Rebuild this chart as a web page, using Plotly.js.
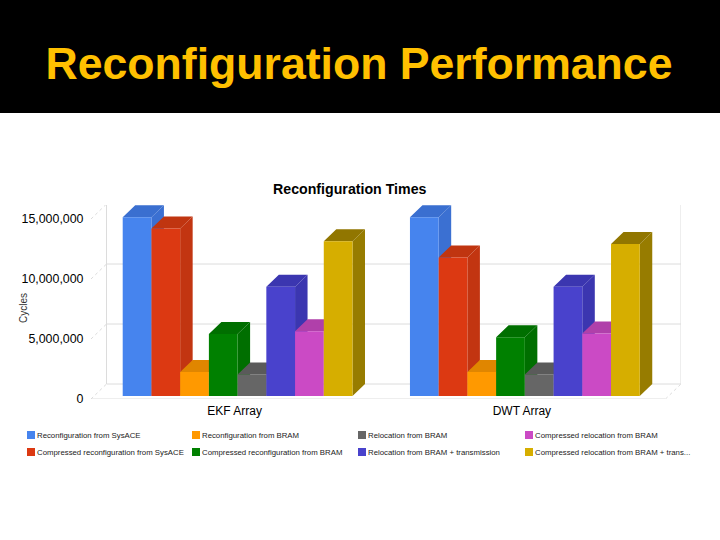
<!DOCTYPE html>
<html>
<head>
<meta charset="utf-8">
<script src="https://cdn.plot.ly/plotly-3.0.1.min.js"></script>
<style>
  html, body { margin: 0; padding: 0; background: #fff; }
</style>
</head>
<body>
<div id="chart" style="width:720px;height:540px"></div>
<script>
const categories = ["EKF Array", "DWT Array"];
const seriesNames = [
  "Reconfiguration from SysACE",
  "Compressed reconfiguration from SysACE",
  "Reconfiguration from BRAM",
  "Compressed reconfiguration from BRAM",
  "Relocation from BRAM",
  "Relocation from BRAM + transmission",
  "Compressed relocation from BRAM",
  "Compressed relocation from BRAM + trans..."
];
const sysAce = [14900000, 14900000];
const compSysAce = [13950000, 11550000];
const bram = [2000000, 2000000];
const compBram = [5170000, 4900000];
const reloc = [1800000, 1800000];
const relocTrans = [9100000, 9100000];
const compReloc = [5400000, 5200000];
const compRelocTrans = [12900000, 12670000];
const seriesValues = [sysAce, compSysAce, bram, compBram, reloc, relocTrans, compReloc, compRelocTrans];

const frontColors = ["#4684ee", "#dc3912", "#ff9900", "#008000", "#666666", "#4942cc", "#cb4ac5", "#d6ae00"];
const topColors = ["#3a6fd0", "#c03510", "#e08600", "#006f00", "#5a5a5a", "#3b36b0", "#b040aa", "#917600"];
const sideColors = ["#3b70d2", "#c23511", "#e08600", "#006f00", "#5a5a5a", "#3b36b0", "#b040aa", "#977c00"];

const tickValues = [0, 5000000, 10000000, 15000000];
const tickLabels = ["0", "5,000,000", "10,000,000", "15,000,000"];

// fake 3d: pixels are 287.5 per category and 12 per million
const barWidth = 0.1;
const barLift = 250000;
const barShift = 0.0104;
const depthX = 0.0435;
const depthY = 1000000;
const wallX = 0.054;
const wallY = 1250000;
const xRange = [-0.5, 1.5 + wallX];
const yRange = [0, 16166667];

let traces = [];

// top and side faces go on the lower axes, bars on the overlay so they cover them
seriesValues.forEach(function (vals, i) {
  let topX = [], topY = [], sideX = [], sideY = [];
  vals.forEach(function (v, c) {
    let x0 = c - 0.4 + i * barWidth + barShift;
    let x1 = x0 + barWidth;
    let y0 = barLift;
    let y1 = v + barLift;
    topX.push(x0, x1, x1 + depthX, x0 + depthX, x0, null);
    topY.push(y1, y1, y1 + depthY, y1 + depthY, y1, null);
    sideX.push(x1, x1 + depthX, x1 + depthX, x1, x1, null);
    sideY.push(y0, y0 + depthY, y1 + depthY, y1, y0, null);
  });
  traces.push({x: sideX, y: sideY, mode: "lines", fill: "toself", fillcolor: sideColors[i],
    line: {width: 0}, hoverinfo: "skip", showlegend: false});
  traces.push({x: topX, y: topY, mode: "lines", fill: "toself", fillcolor: topColors[i],
    line: {width: 0}, hoverinfo: "skip", showlegend: false});
});

seriesValues.forEach(function (vals, i) {
  traces.push({
    type: "bar",
    name: seriesNames[i],
    x: [0, 1],
    y: vals,
    base: barLift,
    width: barWidth,
    offset: -0.4 + i * barWidth + barShift,
    marker: {color: frontColors[i], line: {width: 0}},
    xaxis: "x2",
    yaxis: "y2",
    showlegend: false
  });
});

// paper coords from page pixels, plot box is 91..681 by 205..399
function px(x) { return (x - 91) / 590; }
function py(y) { return (399 - y) / 194; }

// walls and gridlines
const gridColor = "#dcdcdc";
let shapes = [];
function wallLine(x0, y0, x1, y1, dash) {
  shapes.push({type: "line", xref: "x", yref: "y", x0: x0, y0: y0, x1: x1, y1: y1, layer: "below",
    line: {color: gridColor, width: 1, dash: dash || "solid"}});
}
const leftFront = xRange[0];
const rightFront = 1.5;
const leftBack = leftFront + wallX;
const rightBack = rightFront + wallX;
tickValues.forEach(function (t) {
  wallLine(leftBack, t + wallY, rightBack, t + wallY);
  wallLine(leftFront, t, leftBack, t + wallY, "dot");
});
wallLine(leftBack, wallY, leftBack, tickValues[3] + wallY);
wallLine(rightBack, wallY, rightBack, tickValues[3] + wallY);
wallLine(rightFront, 0, rightBack, wallY, "dot");
wallLine(leftFront, 0, rightFront, 0);

// black banner
shapes.push({type: "rect", xref: "paper", yref: "paper", x0: px(0), x1: px(720), y0: py(113), y1: py(0),
  fillcolor: "#000000", line: {width: 0}, layer: "below"});

// legend, two rows of four
const legendX = [27, 192, 358, 525];
const legendY = [435, 452];
let annotations = [];
seriesNames.forEach(function (name, i) {
  let col = Math.floor(i / 2);
  let row = i % 2;
  let lx = legendX[col];
  let ly = legendY[row];
  shapes.push({type: "rect", xref: "paper", yref: "paper", x0: px(lx), x1: px(lx + 8), y0: py(ly - 4), y1: py(ly + 4),
    fillcolor: frontColors[i], line: {width: 0}});
  annotations.push({xref: "paper", yref: "paper", x: px(lx + 9), y: py(ly), xanchor: "left", yanchor: "middle",
    text: name, showarrow: false, font: {size: 7.8, color: "#222222"}, borderpad: 0});
});

annotations.push({xref: "paper", yref: "paper", x: px(349.5), y: py(189), xanchor: "center", yanchor: "middle",
  text: "Reconfiguration Times", showarrow: false, font: {size: 14.2, color: "#000000", weight: "bold"}});
annotations.push({xref: "paper", yref: "paper", x: px(23), y: py(308), xanchor: "center", yanchor: "middle",
  text: "Cycles", textangle: -90, showarrow: false, font: {size: 10, color: "#333333"}});

const layout = {
  width: 720,
  height: 540,
  margin: {l: 91, r: 39, t: 205, b: 141},
  paper_bgcolor: "#ffffff",
  plot_bgcolor: "rgba(0,0,0,0)",
  font: {family: "Liberation Sans, Arial, sans-serif", color: "#000000", size: 12},
  title: {
    text: "Reconfiguration Performance",
    font: {size: 44.6, color: "#ffc000", weight: "bold"},
    x: 0.4986, xref: "container", xanchor: "center",
    y: 1 - 63 / 540, yref: "container", yanchor: "middle"
  },
  showlegend: false,
  barmode: "overlay",
  xaxis: {
    range: xRange,
    tickmode: "array",
    tickvals: [0, 1],
    ticktext: categories,
    showgrid: false,
    zeroline: false,
    showline: false,
    ticks: "outside",
    ticklen: 1,
    tickcolor: "rgba(0,0,0,0)",
    tickfont: {size: 12, color: "#000000"}
  },
  yaxis: {
    range: yRange,
    tickmode: "array",
    tickvals: tickValues,
    ticktext: tickLabels,
    showgrid: false,
    zeroline: false,
    showline: false,
    ticks: "outside",
    ticklen: 4,
    tickcolor: "rgba(0,0,0,0)",
    tickfont: {size: 12.4, color: "#000000"}
  },
  xaxis2: {range: xRange, overlaying: "x", visible: false},
  yaxis2: {range: yRange, overlaying: "y", visible: false},
  shapes: shapes,
  annotations: annotations
};

Plotly.newPlot("chart", traces, layout, {displayModeBar: false});
</script>
</body>
</html>
